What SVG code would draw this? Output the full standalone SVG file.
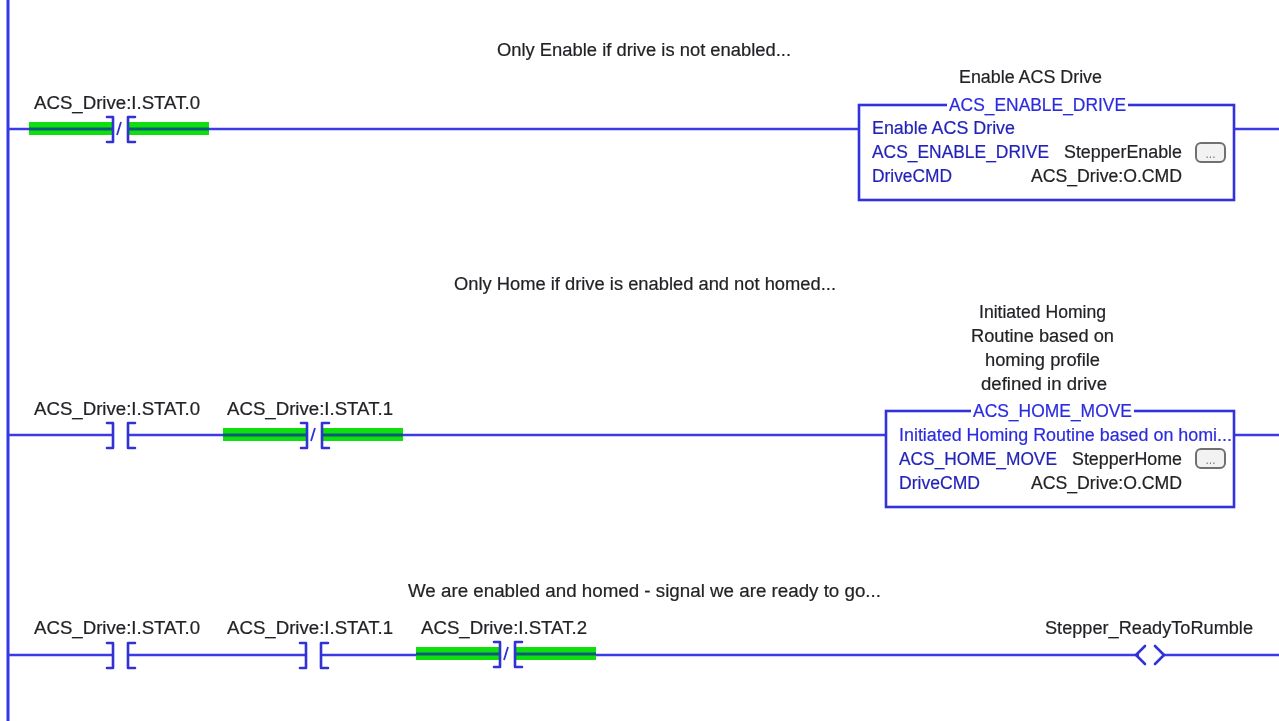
<svg xmlns="http://www.w3.org/2000/svg" width="1279" height="721" viewBox="0 0 1279 721">
<style>
text{font-family:"Liberation Sans",Arial,sans-serif;font-size:18px;fill:#222226;stroke:#222226;stroke-width:.2}
.b{fill:#2424b8;stroke:#2424b8}
.h{fill:#2c2ce0;stroke:#2c2ce0}
.m{text-anchor:middle}
.e{text-anchor:end}
.w{fill:none;stroke:#3a3ae6;stroke-width:2.4}
.r{fill:none;stroke:#3535e8;stroke-width:3}
.c{fill:none;stroke:#3030d4;stroke-width:2.6;stroke-linecap:round;stroke-linejoin:round}
.g{fill:#0ce00c}
.d{stroke:#0f5a78;stroke-width:3}
.box{fill:#fff;stroke:#3333dd;stroke-width:2.6}
.btn{fill:#f2f2f2;stroke:#707070;stroke-width:2}
.dots{font-size:12px;fill:#777;stroke:none}
</style>
<defs>
<filter id="soft" filterUnits="userSpaceOnUse" x="0" y="0" width="1279" height="721"><feGaussianBlur stdDeviation="0.55"/></filter>
<g id="no"><path class="c" d="M-13-12H-7V13H-13"/><path class="c" d="M15-12H8V13H15"/></g>
<g id="nc"><path class="c" d="M-13-12H-7V13H-13"/><path class="c" d="M15-12H8V13H15"/><path d="M-3 6L1-7" fill="none" stroke="#3030d4" stroke-width="1.8"/></g>
<g id="hl"><rect class="g" x="-91" y="-7" width="84" height="13"/><rect class="g" x="8" y="-7" width="81" height="13"/><path class="d" d="M-91 0H-7M8 0H89"/></g>
</defs>
<g filter="url(#soft)">
<g id="connectors">
<path class="r" d="M8 0V721"/>
<path class="w" d="M8 129H113M128 129H858M1234 129H1279"/>
<path class="w" d="M8 435H113M128 435H307M322 435H885M1234 435H1279"/>
<path class="w" d="M8 655H113M128 655H306M321 655H500M515 655H1139M1163 655H1279"/>
</g>
<g id="comment-1"><text class="m" x="644" y="56" textLength="294" lengthAdjust="spacingAndGlyphs">Only Enable if drive is not enabled...</text></g>
<g id="comment-2"><text class="m" x="645" y="290" textLength="382" lengthAdjust="spacingAndGlyphs">Only Home if drive is enabled and not homed...</text></g>
<g id="comment-3"><text class="m" x="644.5" y="597" textLength="473" lengthAdjust="spacingAndGlyphs">We are enabled and homed - signal we are ready to go...</text></g>

<g id="xic-r1"><text class="m" x="117" y="109" textLength="166" lengthAdjust="spacingAndGlyphs">ACS_Drive:I.STAT.0</text><g transform="translate(120 129)"><use href="#hl"/><use href="#nc"/></g></g>

<g id="enable-drive">
<text class="m" x="1030.5" y="83" textLength="143" lengthAdjust="spacingAndGlyphs">Enable ACS Drive</text>
<rect class="box" x="859" y="105" width="375" height="95"/>
<rect x="947" y="98" width="181" height="14" fill="#fff"/>
<text class="m h" x="1037.5" y="111" textLength="177" lengthAdjust="spacingAndGlyphs">ACS_ENABLE_DRIVE</text>
<text class="b" x="872" y="134" textLength="143" lengthAdjust="spacingAndGlyphs">Enable ACS Drive</text>
<text class="b" x="872" y="158" textLength="177" lengthAdjust="spacingAndGlyphs">ACS_ENABLE_DRIVE</text>
<text class="e" x="1182" y="158" textLength="118" lengthAdjust="spacingAndGlyphs">StepperEnable</text>
<rect class="btn" x="1196" y="143" width="29" height="19" rx="5"/>
<text class="m dots" x="1210.5" y="158">...</text>
<text class="b" x="872" y="182" textLength="80" lengthAdjust="spacingAndGlyphs">DriveCMD</text>
<text class="e" x="1182" y="182" textLength="151" lengthAdjust="spacingAndGlyphs">ACS_Drive:O.CMD</text>
</g>

<g id="xic-r2a"><text class="m" x="117" y="415" textLength="166" lengthAdjust="spacingAndGlyphs">ACS_Drive:I.STAT.0</text><use href="#no" transform="translate(120 435)"/></g>
<g id="xio-r2b"><text class="m" x="310" y="415" textLength="166" lengthAdjust="spacingAndGlyphs">ACS_Drive:I.STAT.1</text><g transform="translate(314 435)"><use href="#hl"/><use href="#nc"/></g></g>

<g id="home-move">
<text class="m" x="1042.5" y="318" textLength="127" lengthAdjust="spacingAndGlyphs">Initiated Homing</text>
<text class="m" x="1042.5" y="342" textLength="143" lengthAdjust="spacingAndGlyphs">Routine based on</text>
<text class="m" x="1042.5" y="366" textLength="115" lengthAdjust="spacingAndGlyphs">homing profile</text>
<text class="m" x="1044" y="390" textLength="126" lengthAdjust="spacingAndGlyphs">defined in drive</text>
<rect class="box" x="886" y="411" width="348" height="96"/>
<rect x="971" y="404" width="163" height="14" fill="#fff"/>
<text class="m h" x="1052.5" y="417" textLength="159" lengthAdjust="spacingAndGlyphs">ACS_HOME_MOVE</text>
<text class="h" x="899" y="441" textLength="333" lengthAdjust="spacingAndGlyphs">Initiated Homing Routine based on homi...</text>
<text class="b" x="899" y="465" textLength="158" lengthAdjust="spacingAndGlyphs">ACS_HOME_MOVE</text>
<text class="e" x="1182" y="465" textLength="110" lengthAdjust="spacingAndGlyphs">StepperHome</text>
<rect class="btn" x="1196" y="449" width="29" height="19" rx="5"/>
<text class="m dots" x="1210.5" y="464">...</text>
<text class="b" x="899" y="489" textLength="81" lengthAdjust="spacingAndGlyphs">DriveCMD</text>
<text class="e" x="1182" y="489" textLength="151" lengthAdjust="spacingAndGlyphs">ACS_Drive:O.CMD</text>
</g>

<g id="xic-r3a"><text class="m" x="117" y="634" textLength="166" lengthAdjust="spacingAndGlyphs">ACS_Drive:I.STAT.0</text><use href="#no" transform="translate(120 655)"/></g>
<g id="xic-r3b"><text class="m" x="310" y="634" textLength="166" lengthAdjust="spacingAndGlyphs">ACS_Drive:I.STAT.1</text><use href="#no" transform="translate(313 655)"/></g>
<g id="xio-r3c"><text class="m" x="504" y="634" textLength="166" lengthAdjust="spacingAndGlyphs">ACS_Drive:I.STAT.2</text><g transform="translate(507 654)"><use href="#hl"/><use href="#nc"/></g></g>

<g id="ote"><text class="m" x="1149" y="634" textLength="208" lengthAdjust="spacingAndGlyphs">Stepper_ReadyToRumble</text>
<path class="c" d="M1145 646L1136 655L1145 664M1155 646L1164 655L1155 664"/></g>
</g>
</svg>
